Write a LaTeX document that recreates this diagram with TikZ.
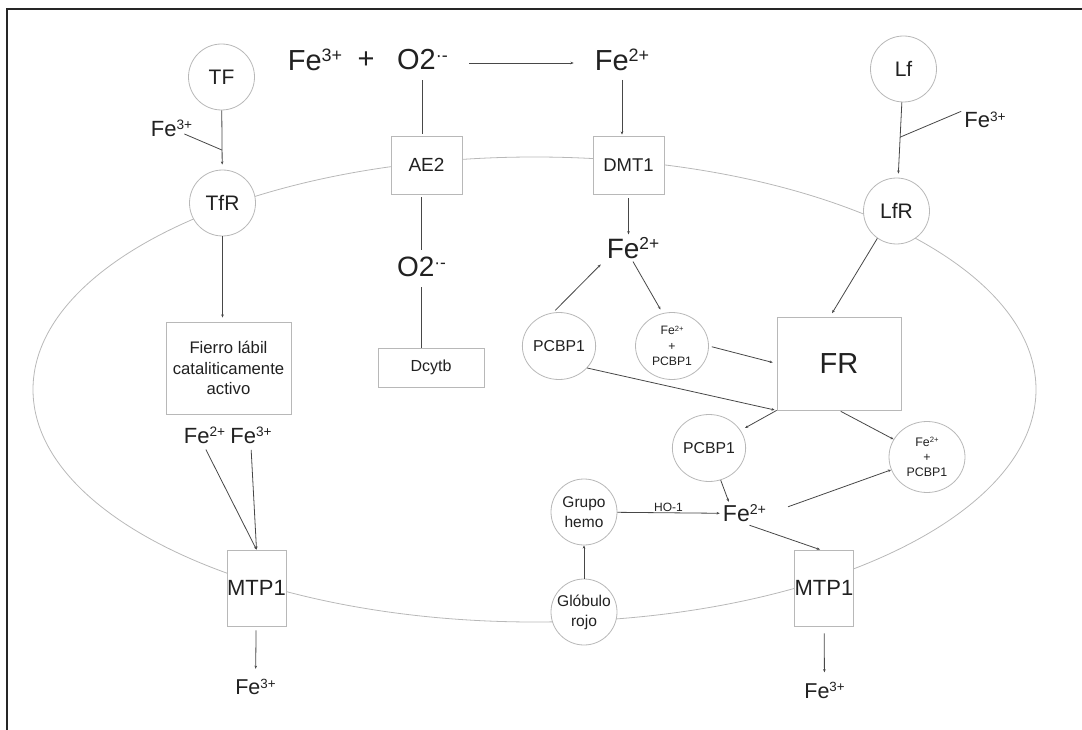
\documentclass[tikz,border=0pt]{standalone}
\usepackage{fontspec}
\setmainfont{Liberation Sans}
\usepackage{tikz}
\usetikzlibrary{shapes,arrows.meta,positioning,calc}
\definecolor{ink}{gray}{0.13}
\definecolor{rim}{gray}{0.72}
\definecolor{lnk}{gray}{0.28}
\definecolor{frm}{gray}{0.15}
\newcommand{\fsz}[2]{\fontsize{#1}{#2}\selectfont}
\newcommand{\chg}[1]{\raisebox{0.3em}{\scalebox{0.62}{#1}}}

\begin{document}
\begin{tikzpicture}[x=1pt, y=-1pt,
    membrane/.style={draw=rim, line width=0.8pt},
    disc/.style={circle, draw=rim, line width=0.8pt, fill=white, minimum size=66pt, inner sep=0pt, align=center, text=ink, font=\fsz{21}{25}},
    oval/.style={ellipse, draw=rim, line width=0.8pt, fill=white, minimum width=73pt, minimum height=67pt, inner sep=0pt, align=center, text=ink},
    box/.style={rectangle, draw=rim, line width=0.8pt, fill=white, inner sep=0pt, align=center, text=ink},
    ion/.style={inner sep=3pt, text=ink},
    link/.style={draw=lnk, line width=0.8pt},
    arr/.style={link, -{Stealth[length=3.2pt,width=2.6pt]}}]
    \useasboundingbox (0,0) rectangle (1082,730);
    % Frame
    \draw[frm, line width=2pt] (7,730) -- (7,9.5) -- (1082,9.5);
    % Cell membrane
    \draw[membrane] (534.5,389.5) ellipse [x radius=501.5, y radius=232.5];

    % Reaction outside the cell
    \node[ion, font=\fsz{29}{34}] (fe3a) at (315,60) {Fe\chg{3+}};
    \node[ion, font=\fsz{29}{34}] (plus) at (366,60) {+};
    \node[ion, font=\fsz{29}{34}] (o2a) at (422.5,60) {O2\chg{·-}};
    \node[ion, font=\fsz{29}{34}] (fe2a) at (622,60) {Fe\chg{2+}};
    \draw[arr, shorten <=18pt, shorten >=18pt] ([yshift=-3pt]o2a.east) -- ([yshift=-3pt]fe2a.west);

    % Carriers and receptors on the membrane
    \node[disc] (tf) at (221.5,77) {TF};
    \node[disc] (tfr) at (222.5,203) {TfR};
    \node[disc] (lf) at (903.5,69) {Lf};
    \node[disc] (lfr) at (896.5,211) {LfR};
    \node[box, minimum width=71pt, minimum height=58pt, font=\fsz{19}{23}] (ae2) at (426.5,165) {AE2};
    \node[box, minimum width=71pt, minimum height=58pt, font=\fsz{18.5}{22}] (dmt1) at (628.5,165) {DMT1};
    \node[box, minimum width=59pt, minimum height=76pt, font=\fsz{22}{26}] (mtpl) at (256.5,588) {MTP1};
    \node[box, minimum width=58pt, minimum height=76pt, font=\fsz{22}{26}] (mtpr) at (824,588) {MTP1};
    \node[disc, font=\fsz{15.6}{20}] (globulo) at (584,612) {Glóbulo\\rojo};

    % Inside the cell
    \node[box, minimum width=125pt, minimum height=92pt, font=\fsz{16.7}{20.7}] (fierro) at (228.5,368) {Fierro lábil\\cataliticamente\\activo};
    \node[box, minimum width=106pt, minimum height=39pt, font=\fsz{16}{20}] (dcytb) at (431,367.5) {Dcytb};
    \node[ion, font=\fsz{28}{33}] (o2b) at (421.5,267) {O2\chg{·-}};
    \node[ion, font=\fsz{28}{33}] (fe2b) at (633,248) {Fe\chg{2+}};
    \node[oval, font=\fsz{15.8}{19}] (pcbpa) at (559,346) {PCBP1};
    \node[oval, font=\fsz{12.2}{15.5}] (fepa) at (672,346) {Fe\chg{2+}\\+\\PCBP1};
    \node[box, minimum width=124pt, minimum height=93pt, font=\fsz{29}{34}] (fr) at (839,363.5) {FR};
    \node[oval, font=\fsz{15.8}{19}] (pcbpb) at (709,448) {PCBP1};
    \node[oval, minimum width=76pt, minimum height=71pt, font=\fsz{12.4}{15}] (fepb) at (927,457) {Fe\chg{2+}\\+\\PCBP1};
    \node[ion, font=\fsz{23}{27}] (fe2c) at (744.5,513.5) {Fe\chg{2+}};
    \node[disc, font=\fsz{15.5}{19.5}] (hemo) at (584,512) {Grupo\\hemo};
    \node[ion, font=\fsz{22}{26}] (fe2l) at (204.5,435.5) {Fe\chg{2+}};
    \node[ion, font=\fsz{22}{26}] (fe3l) at (251,435.5) {Fe\chg{3+}};

    % Free ions
    \node[ion, font=\fsz{22}{26}] (fe3tf) at (171.5,128.5) {Fe\chg{3+}};
    \node[ion, font=\fsz{22}{26}] (fe3lf) at (985,120) {Fe\chg{3+}};
    \node[ion, font=\fsz{21.5}{26}] (fe3b) at (255.5,687) {Fe\chg{3+}};
    \node[ion, font=\fsz{21.5}{26}] (fe3c) at (824.5,690.5) {Fe\chg{3+}};

    % Transferrin path
    \coordinate (jtf) at ($(tf)!0.58!(tfr)$);
    \draw[arr, shorten >=5pt] (tf) -- (tfr);
    \draw[link, shorten <=14pt] (fe3tf.center) -- (jtf);
    \draw[arr, shorten >=4pt] (tfr) -- (tfr |- fierro.north);
    \draw[arr, shorten <=3pt] (fe2l.south) -- (mtpl.north);
    \draw[arr, shorten <=3pt] (fe3l.south) -- (mtpl.north);
    \draw[arr, shorten <=4pt, shorten >=7pt] (mtpl) -- (fe3b);

    % Superoxide path
    \draw[link, shorten <=7pt, shorten >=2pt] (o2a) -- (o2a |- ae2.north);
    \draw[link, shorten <=3pt, shorten >=4pt] (o2b |- ae2.south) -- (o2b);
    \draw[link, shorten >=7pt] (o2b |- dcytb.north) -- (o2b);

    % DMT1 path
    \draw[arr, shorten <=6pt, shorten >=1pt] (fe2a) -- (fe2a |- dmt1.north);
    \draw[arr, shorten <=4pt] (dmt1.south) -- (dmt1.south |- fe2b.north);
    \draw[arr, shorten <=3pt, shorten >=4pt] (pcbpa.100) -- (fe2b.south west);
    \draw[arr, shorten >=3pt] (fe2b.south) -- ([xshift=-10pt]fepa.north);
    \draw[arr, shorten <=3pt, shorten >=4pt] (fepa.east) -- (fr.west);
    \draw[arr, shorten >=2pt] (pcbpa.-38) -- (fr.south west);

    % Lactoferrin path
    \coordinate (jlf) at ($(lf)!0.48!(lfr)$);
    \draw[arr, shorten >=4pt] (lf) -- (lfr);
    \draw[link] (fe3lf.160) -- (jlf);
    \draw[arr, shorten >=4pt] (lfr.-125) -- ([xshift=-9pt]fr.north);

    % Release from FR
    \draw[arr, shorten >=5pt] (fr.south west) -- (pcbpb);
    \draw[arr, shorten <=2pt] (fr.south) -- (fepb);
    \draw[arr] (pcbpb.-70) -- ([xshift=9pt]fe2c.north west);
    \draw[arr, shorten <=20pt] (fe2c.east) -- (fepb);
    \draw[arr] ([xshift=5pt]fe2c.south) -- ([xshift=-4pt]mtpr.north);
    \draw[arr, shorten <=7pt, shorten >=7pt] (mtpr) -- (fe3c);

    % Heme path
    \draw[arr] (globulo) -- (hemo);
    \draw[arr] (hemo) -- (fe2c) node[midway, above, inner sep=1pt, text=ink, font=\fsz{12}{14}] {HO-1};
\end{tikzpicture}
\end{document}
